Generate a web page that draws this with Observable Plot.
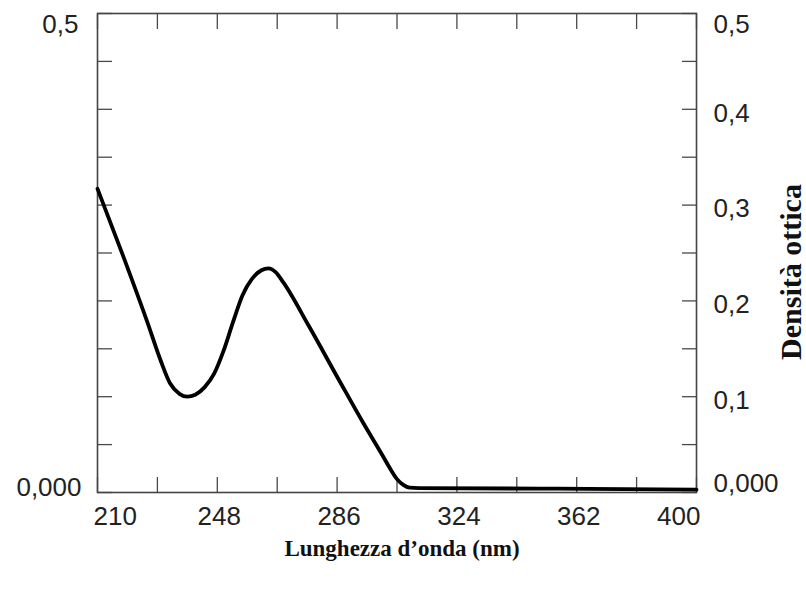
<!DOCTYPE html>
<html>
<head>
<meta charset="utf-8">
<script src="https://cdn.jsdelivr.net/npm/d3@7"></script>
<script src="https://cdn.jsdelivr.net/npm/@observablehq/plot@0.6"></script>
<style>
  html, body { margin: 0; padding: 0; background: #fff; }
  #chart svg { display: block; }
</style>
</head>
<body>
<div id="chart"></div>
<script>
// Data (wavelength in nm, optical density)
const wavelength = [210, 218, 226, 230, 233, 236, 238.5, 241, 244, 247, 250, 253, 256, 259, 262, 264.2, 266.5, 269, 277, 286.5, 294.4, 300, 303, 305, 307, 309, 312, 356, 400];
const density    = [0.317, 0.248, 0.176, 0.138, 0.114, 0.103, 0.100, 0.102, 0.110, 0.124, 0.148, 0.178, 0.206, 0.223, 0.232, 0.234, 0.230, 0.219, 0.174, 0.118, 0.072, 0.041, 0.024, 0.014, 0.008, 0.005, 0.0045, 0.004, 0.003];

const xTicks = [210, 229, 248, 267, 286, 305, 324, 343, 362, 381, 400];
const xLabelValues = [210, 248, 286, 324, 362, 400];
const yTicks = [0, 0.05, 0.1, 0.15, 0.2, 0.25, 0.3, 0.35, 0.4, 0.45, 0.5];
const rightLabelValues = [0.5, 0.4, 0.3, 0.2, 0.1, 0];
const rightLabelTexts = ["0,5", "0,4", "0,3", "0,2", "0,1", "0,000"];
const leftLabelValues = [0.5, 0];
const leftLabelTexts = ["0,5", "0,000"];
const xTitle = "Lunghezza d\u2019onda (nm)";
const yTitle = "Densità ottica";

const series = wavelength.map((w, i) => ({w, d: density[i]}));
const rightLabels = rightLabelValues.map((v, i) => ({v, t: rightLabelTexts[i]}));
const leftLabels = leftLabelValues.map((v, i) => ({v, t: leftLabelTexts[i]}));
const xLabels = xLabelValues.map(v => ({v, t: String(v)}));

const tickFont = "Liberation Sans, Arial, sans-serif";
const titleFont = "Liberation Serif, Times New Roman, serif";
const tickStroke = "#4a4a4a";

const chart = Plot.plot({
  width: 806,
  height: 589,
  marginLeft: 97,
  marginRight: 110,
  marginTop: 13,
  marginBottom: 97,
  style: {background: "#fff", overflow: "visible"},
  x: {domain: [210, 400], axis: null},
  y: {domain: [0, 0.5], axis: null},
  marks: [
    // inward tick marks on all four sides
    Plot.axisX(xTicks, {anchor: "bottom", tickSize: -15, fill: "none", stroke: tickStroke, strokeWidth: 1.3}),
    Plot.axisX(xTicks, {anchor: "top", tickSize: -15, fill: "none", stroke: tickStroke, strokeWidth: 1.3}),
    Plot.axisY(yTicks, {anchor: "left", tickSize: -15, fill: "none", stroke: tickStroke, strokeWidth: 1.3}),
    Plot.axisY(yTicks, {anchor: "right", tickSize: -15, fill: "none", stroke: tickStroke, strokeWidth: 1.3}),
    Plot.frame({stroke: "#444", strokeWidth: 1.6}),
    // data curve
    Plot.line(series, {x: "w", y: "d", stroke: "#000", strokeWidth: 3.8, curve: "monotone-x", strokeLinejoin: "round"}),
    // bottom tick labels
    Plot.text(xLabels.slice(0, 1), {x: "v", text: "t", frameAnchor: "bottom", textAnchor: "start", dx: -4, dy: 32, fontSize: 26, fontFamily: tickFont, fill: "#222"}),
    Plot.text(xLabels.slice(1, -1), {x: "v", text: "t", frameAnchor: "bottom", textAnchor: "middle", dx: 2, dy: 32, fontSize: 26, fontFamily: tickFont, fill: "#222"}),
    Plot.text(xLabels.slice(-1), {x: "v", text: "t", frameAnchor: "bottom", textAnchor: "end", dx: 4, dy: 32, fontSize: 26, fontFamily: tickFont, fill: "#222"}),
    // right tick labels
    Plot.text(rightLabels.slice(0, 1), {y: "v", text: "t", frameAnchor: "right", textAnchor: "start", dx: 17, dy: 11, fontSize: 26, fontFamily: tickFont, fill: "#222"}),
    Plot.text(rightLabels.slice(1, -1), {y: "v", text: "t", frameAnchor: "right", textAnchor: "start", dx: 17, dy: 4, fontSize: 26, fontFamily: tickFont, fill: "#222"}),
    Plot.text(rightLabels.slice(-1), {y: "v", text: "t", frameAnchor: "right", textAnchor: "start", dx: 17, dy: -9, fontSize: 26, fontFamily: tickFont, fill: "#222"}),
    // left tick labels
    Plot.text(leftLabels.slice(0, 1), {y: "v", text: "t", frameAnchor: "left", textAnchor: "end", dx: -19, dy: 11, fontSize: 26, fontFamily: tickFont, fill: "#222"}),
    Plot.text(leftLabels.slice(1), {y: "v", text: "t", frameAnchor: "left", textAnchor: "end", dx: -16, dy: -5, fontSize: 26, fontFamily: tickFont, fill: "#222"}),
    // axis titles
    Plot.text([xTitle], {text: d => d, frameAnchor: "bottom", textAnchor: "middle", dx: 5, dy: 63, fontSize: 23, fontWeight: "bold", fontFamily: titleFont, fill: "#111"}),
    Plot.text([yTitle], {text: d => d, frameAnchor: "right", textAnchor: "middle", rotate: -90, dx: 95, dy: 19, fontSize: 30, fontWeight: "bold", fontFamily: titleFont, fill: "#111"})
  ]
});
document.getElementById("chart").appendChild(chart);
</script>
</body>
</html>
